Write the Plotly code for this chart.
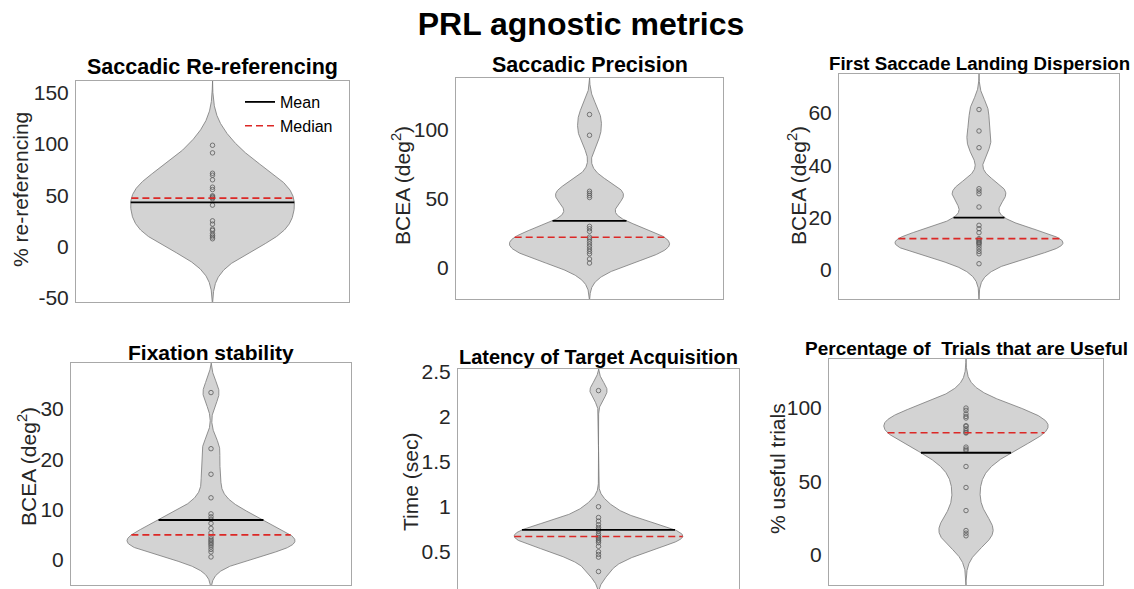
import numpy as np
import plotly.graph_objects as go

# ---- per-participant values for each metric ----
rereferencing = [98.7, 91.3, 71.4, 69.5, 65.0, 57.8, 55.5, 49.4, 48.5, 47.7,
                 46.5, 40.3, 25.0, 21.8, 16.9, 15.6, 12.4, 10.7, 9.2, 7.5]
saccadic_precision = [111.0, 96.0, 55.5, 54.0, 52.5, 51.0, 30.1, 28.4, 26.5, 22.3,
                      21.0, 19.3, 17.4, 15.6, 13.7, 12.0, 10.3, 6.5, 3.6]
landing_dispersion = [61.3, 53.1, 46.7, 31.0, 30.1, 29.1, 24.0, 17.0, 15.7, 14.2,
                      11.9, 11.4, 11.0, 10.5, 10.2, 9.8, 9.0, 8.0, 7.0, 6.1, 2.3]
fixation_stability = [33.3, 22.1, 17.0, 12.3, 9.1, 8.5, 8.0, 7.2, 6.2, 5.3,
                      4.5, 4.1, 3.8, 3.5, 3.2, 2.9, 2.5, 2.0, 1.5, 0.5]
latency = [2.29, 1.00, 0.88, 0.84, 0.80, 0.77, 0.75, 0.73, 0.70, 0.68,
           0.66, 0.65, 0.63, 0.62, 0.60, 0.56, 0.50, 0.47, 0.44, 0.28]
useful_trials = [100.0, 98.4, 96.0, 94.3, 93.2, 88.0, 87.5, 85.9, 84.5, 83.4,
                 83.0, 73.4, 72.1, 71.1, 60.2, 45.9, 30.2, 16.6, 14.8, 13.0]

metrics = [rereferencing, saccadic_precision, landing_dispersion,
           fixation_stability, latency, useful_trials]

panel_titles = ["Saccadic Re-referencing", "Saccadic Precision",
                "First Saccade Landing Dispersion", "Fixation stability",
                "Latency of Target Acquisition",
                "Percentage of\u00a0 Trials that are Useful"]
title_sizes = [21.5, 21.5, 18.7, 21, 20, 19]
y_labels = ["% re-referencing", "BCEA (deg<sup>2</sup>)", "BCEA (deg<sup>2</sup>)",
            "BCEA (deg<sup>2</sup>)", "Time (sec)", "% useful trials"]
y_ticks = [[-50, 0, 50, 100, 150], [0, 50, 100], [0, 20, 40, 60],
           [0, 10, 20, 30], [0.5, 1, 1.5, 2, 2.5], [0, 50, 100]]
y_ticktext = [["-50", "0", "50", "100", "150"], ["0", "50", "100"],
              ["0", "20", "40", "60"], ["0", "10", "20", "30"],
              ["0.5", "1", "1.5", "2", "2.5"], ["0", "50", "100"]]
y_ranges = [[-54.2, 161.4], [-22.4, 137.4], [-11.2, 74.9],
            [-5.1, 39.2], [0.086, 2.53], [-20.5, 133.4]]

# ---- page geometry (pixels) ----
W, H = 1134, 589
# left, right, top, bottom of each axes box
boxes = [(76, 349, 81, 302), (456, 723, 78, 299), (839, 1119, 74, 299),
         (71, 351, 363, 585), (458, 739, 369, 589), (829, 1103, 359, 585)]
title_y = [67, 65, 63, 352, 357, 348]
ylabel_x = [21, 401, 797, 27, 411, 777]
ylabel_y = [190, 186, 186, 467, 482, 469]

VIOLIN_HALF_WIDTH = 0.3
FILL = "rgb(211,211,211)"
EDGE = "rgb(120,120,120)"
MEDIAN_RED = "rgb(220,40,38)"
FONT = "Liberation Sans, Arial, sans-serif"


def ks_bandwidth(v):
    """Normal-reference bandwidth with a robust (MAD based) spread."""
    v = np.asarray(v, float)
    sig = np.median(np.abs(v - np.median(v))) / 0.6745
    return sig * (4.0 / (3.0 * len(v))) ** 0.2


def kde(v, grid, bw):
    v = np.asarray(v, float)
    z = (grid[:, None] - v[None, :]) / bw
    return np.exp(-0.5 * z ** 2).sum(axis=1) / (len(v) * bw * np.sqrt(2 * np.pi))


fig = go.Figure()
annotations = []

for i, vals in enumerate(metrics):
    k = i + 1
    xa = "x" if k == 1 else f"x{k}"
    ya = "y" if k == 1 else f"y{k}"
    vals = np.asarray(vals, float)

    lo, hi = y_ranges[i]
    grid = np.linspace(lo, hi, 600)
    dens = kde(vals, grid, ks_bandwidth(vals))
    half = VIOLIN_HALF_WIDTH * dens / dens.max()

    # violin body
    fig.add_trace(go.Scatter(
        x=np.concatenate([1 - half, (1 + half)[::-1]]),
        y=np.concatenate([grid, grid[::-1]]),
        mode="lines", fill="toself", fillcolor=FILL,
        line=dict(color=EDGE, width=0.8), hoverinfo="skip",
        showlegend=False, xaxis=xa, yaxis=ya))

    # individual observations
    fig.add_trace(go.Scatter(
        x=np.ones(len(vals)), y=vals, mode="markers",
        marker=dict(symbol="circle-open", size=4.5, color="rgb(90,90,90)",
                    line=dict(width=0.8)),
        showlegend=False, xaxis=xa, yaxis=ya))

    # mean and median lines span the violin at their level
    mean_v, med_v = vals.mean(), np.median(vals)
    w_mean = np.interp(mean_v, grid, half)
    w_med = np.interp(med_v, grid, half)
    fig.add_trace(go.Scatter(
        x=[1 - w_mean, 1 + w_mean], y=[mean_v, mean_v], mode="lines",
        line=dict(color="black", width=1.8), name="Mean",
        showlegend=(k == 1), legendrank=1, xaxis=xa, yaxis=ya))
    fig.add_trace(go.Scatter(
        x=[1 - w_med, 1 + w_med], y=[med_v, med_v], mode="lines",
        line=dict(color=MEDIAN_RED, width=1.6, dash="7px,4px"), name="Median",
        showlegend=(k == 1), legendrank=2, xaxis=xa, yaxis=ya))

    left, right, top, bottom = boxes[i]
    xdom = [left / W, right / W]
    ydom = [max(0.0, 1 - bottom / H), 1 - top / H]
    axis_common = dict(showgrid=False, zeroline=False, showline=True, mirror=True,
                       linecolor="rgb(168,168,168)", linewidth=1, ticks="",
                       automargin=False)
    fig.update_layout(**{
        ("xaxis" if k == 1 else f"xaxis{k}"): dict(
            domain=xdom, range=[0.5, 1.5], showticklabels=False,
            anchor=ya, **axis_common),
        ("yaxis" if k == 1 else f"yaxis{k}"): dict(
            domain=ydom, range=y_ranges[i], tickvals=y_ticks[i],
            ticktext=y_ticktext[i],
            tickfont=dict(size=21, color="rgb(38,38,38)", family=FONT),
            ticklabelstandoff=2, anchor=xa, **axis_common),
    })

    annotations.append(dict(
        text=f"<b>{panel_titles[i]}</b>", xref="paper", yref="paper",
        x=(left + right) / 2 / W, y=1 - title_y[i] / H,
        xanchor="center", yanchor="middle", showarrow=False,
        font=dict(size=title_sizes[i], color="black", family=FONT)))
    annotations.append(dict(
        text=y_labels[i], xref="paper", yref="paper",
        x=ylabel_x[i] / W, y=1 - ylabel_y[i] / H,
        xanchor="center", yanchor="middle", textangle=-90, showarrow=False,
        font=dict(size=21, color="rgb(38,38,38)", family=FONT)))

fig.update_layout(
    width=W, height=H,
    margin=dict(l=0, r=0, t=0, b=0, autoexpand=False),
    paper_bgcolor="white", plot_bgcolor="white",
    font=dict(family=FONT, color="black"),
    title=dict(text="<b>PRL agnostic metrics</b>", x=581 / W, y=1 - 24 / H,
               xanchor="center", yanchor="middle",
               font=dict(size=32, color="black", family=FONT)),
    legend=dict(x=240 / W, y=1 - 85 / H, xanchor="left", yanchor="top",
                bgcolor="rgba(0,0,0,0)", borderwidth=0, tracegroupgap=0,
                font=dict(size=16, color="black", family=FONT)),
    annotations=annotations,
)

fig.write_html("out.html")
